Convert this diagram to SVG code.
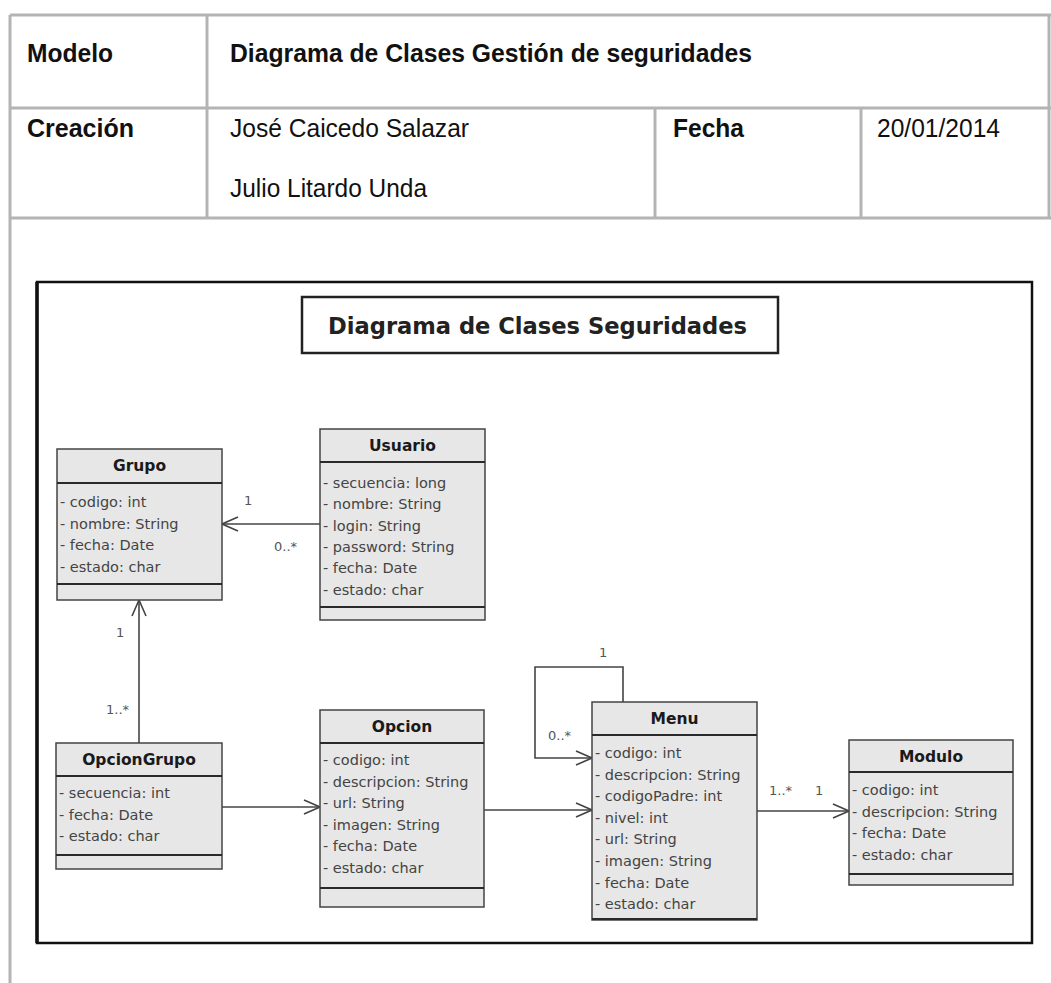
<svg xmlns="http://www.w3.org/2000/svg" width="1051" height="983" viewBox="0 0 1051 983">
  <style>
    .grid { stroke: #b4b4b4; stroke-width: 3; fill: none; }
    .hdr { font-family: "Liberation Sans", Arial, sans-serif; font-size: 26px; fill: #111; }
    .hdr-b { font-weight: bold; }
    .frame { fill: #fff; stroke: #111; stroke-width: 2.5; }
    .title-box { fill: #fff; stroke: #222; stroke-width: 2.5; }
    .title { font-family: "DejaVu Sans", sans-serif; font-weight: bold; font-size: 23px; fill: #222; }
    .cls { fill: #e7e7e7; stroke: #444; stroke-width: 1.5; }
    .sep { stroke: #2a2a2a; stroke-width: 2; }
    .cname { font-family: "DejaVu Sans", sans-serif; font-weight: bold; font-size: 15.5px; fill: #1a1a1a; text-anchor: middle; }
    .attr { font-family: "DejaVu Sans", sans-serif; font-size: 14.5px; fill: #444; }
    .edge { stroke: #444; stroke-width: 1.6; fill: none; }
    .mult { font-family: "DejaVu Sans", sans-serif; font-size: 13px; fill: #555; }
  </style>
  <defs>
    <marker id="open" viewBox="0 0 18 16" refX="17" refY="8" markerWidth="18" markerHeight="16" markerUnits="userSpaceOnUse" orient="auto">
      <path d="M1,1 L17,8 L1,15" fill="none" stroke="#444" stroke-width="1.6"/>
    </marker>
  </defs>

  <rect width="1051" height="983" fill="#fff"/>

  <!-- header table -->
  <g id="header-table">
    <line class="grid" x1="10" y1="15" x2="1051" y2="15"/>
    <line class="grid" x1="10" y1="15" x2="10" y2="983"/>
    <line class="grid" x1="10" y1="108" x2="1051" y2="108"/>
    <line class="grid" x1="10" y1="218" x2="1051" y2="218"/>
    <line class="grid" x1="207" y1="15" x2="207" y2="218"/>
    <line class="grid" x1="655" y1="108" x2="655" y2="218"/>
    <line class="grid" x1="861" y1="108" x2="861" y2="218"/>
    <line class="grid" x1="1049" y1="15" x2="1049" y2="218"/>
    <text class="hdr hdr-b" x="27" y="62" textLength="86" lengthAdjust="spacingAndGlyphs">Modelo</text>
    <text class="hdr hdr-b" x="230" y="62" textLength="522" lengthAdjust="spacingAndGlyphs">Diagrama de Clases Gestión de seguridades</text>
    <text class="hdr hdr-b" x="27" y="137" textLength="107" lengthAdjust="spacingAndGlyphs">Creación</text>
    <text class="hdr" x="230" y="137" textLength="239" lengthAdjust="spacingAndGlyphs">José Caicedo Salazar</text>
    <text class="hdr" x="230" y="197" textLength="197" lengthAdjust="spacingAndGlyphs">Julio Litardo Unda</text>
    <text class="hdr hdr-b" x="673" y="137" textLength="71" lengthAdjust="spacingAndGlyphs">Fecha</text>
    <text class="hdr" x="877" y="137" textLength="123" lengthAdjust="spacingAndGlyphs">20/01/2014</text>
  </g>

  <!-- diagram frame and title -->
  <rect class="frame" x="37" y="282" width="995" height="661"/>
  <line x1="37" y1="282" x2="37" y2="943" stroke="#111" stroke-width="3.5"/>
  <g id="title">
    <rect class="title-box" x="302" y="297" width="476" height="56"/>
    <text class="title" x="328" y="334" textLength="419" lengthAdjust="spacingAndGlyphs">Diagrama de Clases Seguridades</text>
  </g>

  <!-- connectors -->
  <g id="connectors">
    <line class="edge" x1="320" y1="524" x2="222" y2="524" marker-end="url(#open)"/>
    <line class="edge" x1="139" y1="743" x2="139" y2="600" marker-end="url(#open)"/>
    <line class="edge" x1="222" y1="807" x2="320" y2="807" marker-end="url(#open)"/>
    <line class="edge" x1="484" y1="810" x2="592" y2="810" marker-end="url(#open)"/>
    <polyline class="edge" points="623,702 623,667 535,667 535,758 592,758" marker-end="url(#open)"/>
    <line class="edge" x1="757" y1="811" x2="849" y2="811" marker-end="url(#open)"/>
    <text class="mult" x="244" y="505">1</text>
    <text class="mult" x="274" y="551">0..*</text>
    <text class="mult" x="116" y="637">1</text>
    <text class="mult" x="106" y="714">1..*</text>
    <text class="mult" x="599" y="657">1</text>
    <text class="mult" x="548" y="740">0..*</text>
    <text class="mult" x="769" y="795">1..*</text>
    <text class="mult" x="815" y="795">1</text>
  </g>

  <!-- classes -->
  <g id="Grupo">
    <rect class="cls" x="57" y="449" width="165" height="151"/>
    <line class="sep" x1="57" y1="483" x2="222" y2="483"/>
    <line class="sep" x1="57" y1="584" x2="222" y2="584"/>
    <text class="cname" x="139.5" y="471">Grupo</text>
    <text class="attr" x="60" y="507">- codigo: int</text>
    <text class="attr" x="60" y="528.5">- nombre: String</text>
    <text class="attr" x="60" y="550">- fecha: Date</text>
    <text class="attr" x="60" y="571.5">- estado: char</text>
  </g>

  <g id="Usuario">
    <rect class="cls" x="320" y="429" width="165" height="191"/>
    <line class="sep" x1="320" y1="462" x2="485" y2="462"/>
    <line class="sep" x1="320" y1="607" x2="485" y2="607"/>
    <text class="cname" x="402.5" y="451">Usuario</text>
    <text class="attr" x="323" y="488">- secuencia: long</text>
    <text class="attr" x="323" y="509.3">- nombre: String</text>
    <text class="attr" x="323" y="530.6">- login: String</text>
    <text class="attr" x="323" y="551.9">- password: String</text>
    <text class="attr" x="323" y="573.2">- fecha: Date</text>
    <text class="attr" x="323" y="594.5">- estado: char</text>
  </g>

  <g id="OpcionGrupo">
    <rect class="cls" x="56" y="743" width="166" height="126"/>
    <line class="sep" x1="56" y1="776" x2="222" y2="776"/>
    <line class="sep" x1="56" y1="855" x2="222" y2="855"/>
    <text class="cname" x="139" y="765">OpcionGrupo</text>
    <text class="attr" x="59" y="798">- secuencia: int</text>
    <text class="attr" x="59" y="819.5">- fecha: Date</text>
    <text class="attr" x="59" y="841">- estado: char</text>
  </g>

  <g id="Opcion">
    <rect class="cls" x="320" y="710" width="164" height="197"/>
    <line class="sep" x1="320" y1="743" x2="484" y2="743"/>
    <line class="sep" x1="320" y1="888" x2="484" y2="888"/>
    <text class="cname" x="402" y="732">Opcion</text>
    <text class="attr" x="323" y="765">- codigo: int</text>
    <text class="attr" x="323" y="786.6">- descripcion: String</text>
    <text class="attr" x="323" y="808.2">- url: String</text>
    <text class="attr" x="323" y="829.8">- imagen: String</text>
    <text class="attr" x="323" y="851.4">- fecha: Date</text>
    <text class="attr" x="323" y="873">- estado: char</text>
  </g>

  <g id="Menu">
    <rect class="cls" x="592" y="702" width="165" height="218"/>
    <line class="sep" x1="592" y1="735" x2="757" y2="735"/>
    <line class="sep" x1="592" y1="919" x2="757" y2="919"/>
    <text class="cname" x="674.5" y="724">Menu</text>
    <text class="attr" x="595" y="758">- codigo: int</text>
    <text class="attr" x="595" y="779.6">- descripcion: String</text>
    <text class="attr" x="595" y="801.2">- codigoPadre: int</text>
    <text class="attr" x="595" y="822.8">- nivel: int</text>
    <text class="attr" x="595" y="844.4">- url: String</text>
    <text class="attr" x="595" y="866">- imagen: String</text>
    <text class="attr" x="595" y="887.6">- fecha: Date</text>
    <text class="attr" x="595" y="909.2">- estado: char</text>
  </g>

  <g id="Modulo">
    <rect class="cls" x="849" y="740" width="164" height="145"/>
    <line class="sep" x1="849" y1="772" x2="1013" y2="772"/>
    <line class="sep" x1="849" y1="874" x2="1013" y2="874"/>
    <text class="cname" x="931" y="762">Modulo</text>
    <text class="attr" x="852" y="795">- codigo: int</text>
    <text class="attr" x="852" y="816.5">- descripcion: String</text>
    <text class="attr" x="852" y="838">- fecha: Date</text>
    <text class="attr" x="852" y="859.5">- estado: char</text>
  </g>
</svg>
